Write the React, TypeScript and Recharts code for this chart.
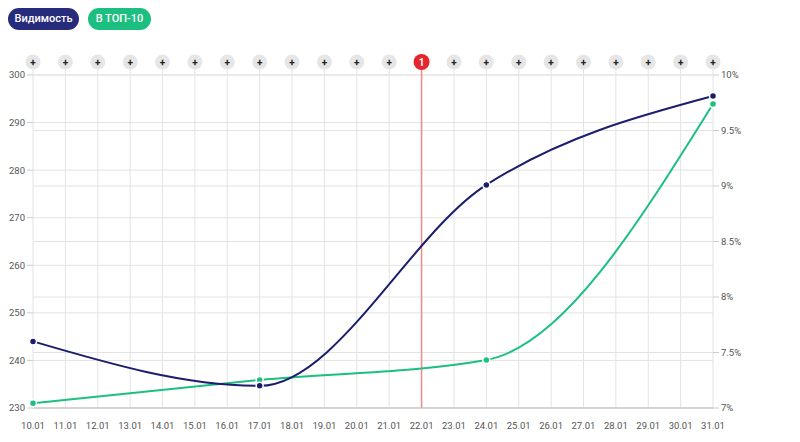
import React from 'react';
import { LineChart, Line, XAxis, YAxis, CartesianGrid, ReferenceLine } from 'recharts';

const dates = [
  '10.01', '11.01', '12.01', '13.01', '14.01', '15.01', '16.01', '17.01', '18.01', '19.01', '20.01',
  '21.01', '22.01', '23.01', '24.01', '25.01', '26.01', '27.01', '28.01', '29.01', '30.01', '31.01',
];

// Видимость, % (right axis)
const visibility = [
  7.6, null, null, null, null, null, null, 7.2, null, null, null,
  null, null, null, 9.01, null, null, null, null, null, null, 9.81,
];

// В ТОП-10 (left axis)
const top10 = [
  231, null, null, null, null, null, null, 235.9, null, null, null,
  null, null, null, 240.1, null, null, null, null, null, null, 293.9,
];

const leftTicks = [230, 240, 250, 260, 270, 280, 290, 300];
const rightTicks = [7, 7.5, 8, 8.5, 9, 9.5, 10];

const events = [{ date: '22.01', label: '1' }];

const NAVY = '#1b1e6c';
const GREEN = '#1dbf81';
const RED = '#e5262f';
const GRID = '#e3e3e3';

const data = dates.map((date, i) => ({ date, visibility: visibility[i], top10: top10[i] }));

const TopMarker = (props: any) => {
  const { x, y, payload } = props;
  const ev = events.find(e => e.date === payload.value);
  if (ev) {
    return (
      <g>
        <line x1={x} x2={x} y1={y} y2={y + 13} stroke="#f08a8a" strokeWidth={1.5} />
        <circle cx={x} cy={y} r={8} fill={RED} />
        <text x={x} y={y + 3.5} textAnchor="middle" fontSize={10} fontWeight={700} fill="#fff" fontFamily="Roboto, sans-serif">
          {ev.label}
        </text>
      </g>
    );
  }
  return (
    <g>
      <line x1={x} x2={x} y1={y} y2={y + 13} stroke={GRID} strokeWidth={1} />
      <circle cx={x} cy={y} r={7.5} fill="#e6e6e6" />
      <text x={x} y={y + 3.5} textAnchor="middle" fontSize={10} fontWeight={700} fill="#222" fontFamily="Roboto, sans-serif">
        +
      </text>
    </g>
  );
};

const pill = (bg: string): React.CSSProperties => ({
  position: 'absolute',
  top: 8,
  height: 22,
  lineHeight: '22px',
  borderRadius: 11,
  background: bg,
  color: '#fff',
  fontFamily: 'Roboto, sans-serif',
  fontWeight: 500,
  fontSize: 11,
  textAlign: 'center',
});

const tickStyle = { fontSize: 9.5, fill: '#555', fontFamily: 'Roboto, sans-serif' };

export default function App() {
  return (
    <div style={{ position: 'absolute', left: 0, top: 0, width: 800, height: 442, background: '#fff' }}>
      <LineChart width={800} height={442} data={data} margin={{ top: 0, right: 0, bottom: 0, left: 0 }}>
        <CartesianGrid yAxisId="left" stroke={GRID} vertical={true} horizontal={true} />
        <CartesianGrid yAxisId="right" stroke={GRID} vertical={false} horizontal={true} />
        <XAxis
          xAxisId="top"
          dataKey="date"
          orientation="top"
          height={75}
          axisLine={false}
          tickLine={false}
          tickSize={0}
          tickMargin={13}
          interval={0}
          tick={<TopMarker />}
        />
        <XAxis
          dataKey="date"
          height={34}
          interval={0}
          tick={tickStyle}
          axisLine={{ stroke: '#bdbdbd' }}
          tickLine={false}
          tickMargin={8}
        />
        <YAxis
          yAxisId="left"
          width={33}
          domain={[230, 300]}
          ticks={leftTicks}
          tick={tickStyle}
          axisLine={false}
          tickLine={{ stroke: '#cccccc' }}
          tickSize={6}
          tickMargin={2}
        />
        <YAxis
          yAxisId="right"
          orientation="right"
          width={87}
          domain={[7, 10]}
          ticks={rightTicks}
          tick={tickStyle}
          tickFormatter={(v: number) => `${v}%`}
          axisLine={false}
          tickLine={{ stroke: '#cccccc' }}
          tickSize={6}
          tickMargin={2}
        />
        {events.map(e => (
          <ReferenceLine key={e.date} x={e.date} yAxisId="left" stroke="#f08a8a" strokeWidth={1.5} />
        ))}
        <Line
          yAxisId="left"
          type="monotone"
          dataKey="top10"
          stroke={GREEN}
          strokeWidth={2}
          connectNulls
          dot={{ r: 3.5, fill: GREEN, stroke: '#fff', strokeWidth: 1.5 }}
          activeDot={false}
          isAnimationActive={false}
        />
        <Line
          yAxisId="right"
          type="monotone"
          dataKey="visibility"
          stroke={NAVY}
          strokeWidth={2}
          connectNulls
          dot={{ r: 3.5, fill: NAVY, stroke: '#fff', strokeWidth: 1.5 }}
          activeDot={false}
          isAnimationActive={false}
        />
      </LineChart>
      <div style={{ ...pill('#272b7c'), left: 8, width: 71 }}>Видимость</div>
      <div style={{ ...pill(GREEN), left: 88, width: 63 }}>В ТОП-10</div>
    </div>
  );
}
